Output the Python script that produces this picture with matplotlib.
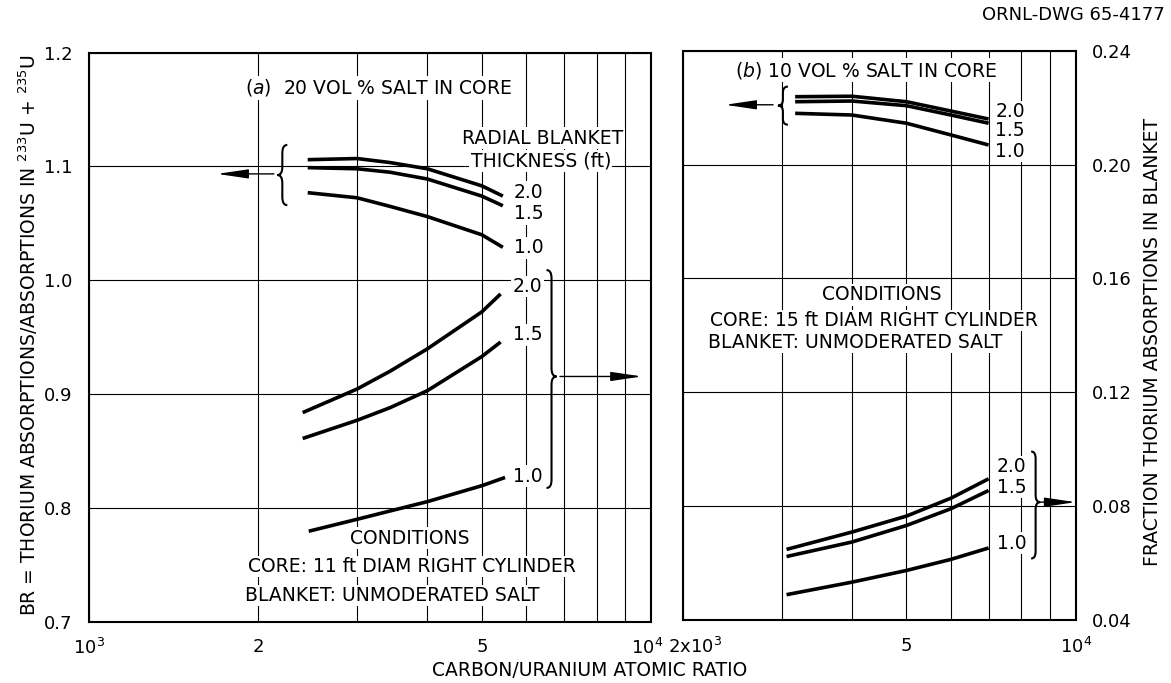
import matplotlib
matplotlib.use("Agg")
import matplotlib.pyplot as plt
from matplotlib.path import Path
from matplotlib.patches import PathPatch
from matplotlib.ticker import NullFormatter
from matplotlib.transforms import ScaledTranslation

plt.rcParams['font.family'] = ['DejaVu Sans']
plt.rcParams['mathtext.default'] = 'regular'

# ---- data -------------------------------------------------------------
# (a) 20 vol % salt in core, 11 ft core
a_br_x = [2450, 3000, 3430, 4000, 5000, 5450]
a_br_20 = [1.106, 1.107, 1.1035, 1.098, 1.083, 1.074]
a_br_15 = [1.099, 1.098, 1.095, 1.089, 1.074, 1.0655]
a_br_10 = [1.077, 1.0725, 1.065, 1.056, 1.040, 1.029]

a_frac_x = [2400, 3000, 3430, 4000, 5000, 5400]
a_frac_20 = [0.1135, 0.1218, 0.1280, 0.1359, 0.1489, 0.1552]
a_frac_15 = [0.1044, 0.1108, 0.1152, 0.1212, 0.1332, 0.1383]
a_frac_10_x = [2460, 3000, 3430, 4000, 5000, 5500]
a_frac_10 = [0.0718, 0.0760, 0.0789, 0.0822, 0.0878, 0.0907]

# (b) 10 vol % salt in core, 15 ft core
b_br_x = [3170, 4000, 5000, 6000, 7000]
b_br_20 = [1.1596, 1.1600, 1.1552, 1.1470, 1.1400]
b_br_15 = [1.1552, 1.1558, 1.1517, 1.1435, 1.1363]
b_br_10 = [1.1450, 1.1435, 1.1363, 1.1260, 1.1172]

b_frac_x = [3060, 4000, 5000, 6000, 7000]
b_frac_20 = [0.0648, 0.0709, 0.0765, 0.0828, 0.0896]
b_frac_15 = [0.0623, 0.0674, 0.0732, 0.0791, 0.0855]
b_frac_10 = [0.0489, 0.0533, 0.0574, 0.0613, 0.0653]

thickness_labels = ["2.0", "1.5", "1.0"]

a_xticks = [1000, 2000, 5000, 10000]
a_xticklabels = ["10$^3$", "2", "5", "10$^4$"]
a_xgrid = [2000, 3000, 4000, 5000, 6000, 7000, 8000, 9000]
b_xticks = [2000, 5000, 10000]
b_xticklabels = ["2x10$^3$", "5", "10$^4$"]
b_xgrid = [3000, 4000, 5000, 6000, 7000, 8000, 9000]

br_ticks = [0.7, 0.8, 0.9, 1.0, 1.1, 1.2]
br_ticklabels = ["0.7", "0.8", "0.9", "1.0", "1.1", "1.2"]
frac_ticks = [0.04, 0.08, 0.12, 0.16, 0.20, 0.24]
frac_ticklabels = ["0.04", "0.08", "0.12", "0.16", "0.20", "0.24"]

# ---- figure -----------------------------------------------------------
W, H = 1171, 683
fig = plt.figure(figsize=(W / 100, H / 100), dpi=100)
fig.patch.set_facecolor("white")

axL = fig.add_axes([89 / W, 1 - 621.7 / H, 562 / W, 569 / H])
axR = fig.add_axes([682.7 / W, 1 - 620 / H, 393 / W, 569.3 / H])

FS = 13.5
TICK_FS = 13
CURVE_LW = 2.6
GRID_KW = dict(color="black", linewidth=0.8)


def style_axes(ax, xlim, xticks, xlabels, xgrid):
    ax.set_xscale("log")
    ax.set_xlim(*xlim)
    ax.set_xticks(xticks, xlabels)
    ax.set_xticks(xgrid, minor=True)
    ax.xaxis.set_minor_formatter(NullFormatter())
    ax.tick_params(axis="both", which="both", length=0, labelsize=TICK_FS, pad=12)
    ax.grid(True, which="both", axis="x", **GRID_KW)
    ax.grid(True, which="major", axis="y", **GRID_KW)
    ax.set_axisbelow(True)
    for s in ax.spines.values():
        s.set_linewidth(1.5)


style_axes(axL, (1000, 10000), a_xticks, a_xticklabels, a_xgrid)
axL.set_ylim(0.7, 1.2)
axL.set_yticks(br_ticks, br_ticklabels)

style_axes(axR, (2000, 10000), b_xticks, b_xticklabels, b_xgrid)
axR.set_ylim(0.04, 0.24)
axR.set_yticks(frac_ticks, frac_ticklabels)

# shift the crowded decade labels apart
lblL = axL.get_xticklabels()[-1]
lblL.set_transform(lblL.get_transform() + ScaledTranslation(-3 / 72, 0, fig.dpi_scale_trans))
lblR = axR.get_xticklabels()[0]
lblR.set_transform(lblR.get_transform() + ScaledTranslation(9 / 72, 0, fig.dpi_scale_trans))

# twin axes carrying the other ordinate in each panel
axLf = axL.twinx()
axLf.set_ylim(0.04, 0.24)
axLf.set_yticks([])
axRb = axR.twinx()
axRb.set_ylim(0.7, 1.2)
axRb.set_yticks([])
for tw in (axLf, axRb):
    tw.tick_params(length=0)
    for s in tw.spines.values():
        s.set_visible(False)
# fraction scale of panel (b) reads on the right-hand side
axR.yaxis.tick_right()
axR.tick_params(axis="y", length=0, labelsize=TICK_FS, pad=12)

line_kw = dict(color="black", linewidth=CURVE_LW, solid_capstyle="butt")
for ys in (a_br_20, a_br_15, a_br_10):
    axL.plot(a_br_x, ys, zorder=4, **line_kw)
axLf.plot(a_frac_x, a_frac_20, **line_kw)
axLf.plot(a_frac_x, a_frac_15, **line_kw)
axLf.plot(a_frac_10_x, a_frac_10, **line_kw)
for ys in (b_br_20, b_br_15, b_br_10):
    axRb.plot(b_br_x, ys, **line_kw)
for ys in (b_frac_20, b_frac_15, b_frac_10):
    axR.plot(b_frac_x, ys, zorder=4, **line_kw)

# ---- annotations ------------------------------------------------------
box = dict(facecolor="white", edgecolor="none", pad=1.0)


def label(ax, x, y, s, ha="center", size=FS, **kw):
    ax.text(x, y, s, transform=ax.transAxes, ha=ha, va="center",
            fontsize=size, bbox=box, zorder=3, **kw)


def brace(ax, xc, y0, y1, w, d, ym=None):
    """Curly brace in axes fraction; ends at xc + w/2, tip at xc - w/2."""
    if ym is None:
        ym = 0.5 * (y0 + y1)
    e, t = xc + w / 2, xc - w / 2
    verts = [(e, y1), (xc, y1), (xc, y1 - d),
             (xc, ym + d), (xc, ym), (t, ym),
             (xc, ym), (xc, ym - d),
             (xc, y0 + d), (xc, y0), (e, y0)]
    codes = [Path.MOVETO, Path.CURVE3, Path.CURVE3,
             Path.LINETO, Path.CURVE3, Path.CURVE3,
             Path.CURVE3, Path.CURVE3,
             Path.LINETO, Path.CURVE3, Path.CURVE3]
    ax.add_patch(PathPatch(Path(verts, codes), transform=ax.transAxes,
                           facecolor="none", edgecolor="black",
                           linewidth=1.5, zorder=5, clip_on=False))


def arrow(ax, x0, x1, y):
    ax.annotate("", xy=(x1, y), xytext=(x0, y), xycoords="axes fraction",
                textcoords="axes fraction", zorder=5,
                arrowprops=dict(arrowstyle="-|>,head_length=1.9,head_width=0.28",
                                mutation_scale=10,
                                color="black", lw=1.0, shrinkA=0, shrinkB=0))


# panel (a)
label(axL, 0.516, 0.938, "($\\it{a}$)  20 VOL % SALT IN CORE")
label(axL, 0.808, 0.850, "RADIAL BLANKET")
label(axL, 0.804, 0.810, "THICKNESS (ft)")
for y, s in zip((0.755, 0.717, 0.657), thickness_labels):
    label(axL, 0.756, y, s, ha="left")
for y, s in zip((0.589, 0.504, 0.256), thickness_labels):
    label(axL, 0.754, y, s, ha="left")
brace(axL, 0.344, 0.732, 0.838, 10 / 562, 8 / 569)
arrow(axL, 0.329, 0.228, 0.787)
brace(axL, 0.823, 0.235, 0.618, -10 / 562, 8 / 569, ym=0.431)
arrow(axL, 0.838, 0.984, 0.431)
label(axL, 0.571, 0.147, "CONDITIONS")
label(axL, 0.574, 0.097, "CORE: 11 ft DIAM RIGHT CYLINDER")
label(axL, 0.278, 0.046, "BLANKET: UNMODERATED SALT", ha="left")

# panel (b)
label(axR, 0.466, 0.966, "($\\it{b}$) 10 VOL % SALT IN CORE")
brace(axR, 0.255, 0.870, 0.937, 10 / 393, 6 / 569)
arrow(axR, 0.230, 0.108, 0.905)
for y, s in zip((0.893, 0.859, 0.823), thickness_labels):
    label(axR, 0.795, y, s, ha="left")
label(axR, 0.506, 0.571, "CONDITIONS")
label(axR, 0.487, 0.526, "CORE: 15 ft DIAM RIGHT CYLINDER")
label(axR, 0.064, 0.488, "BLANKET: UNMODERATED SALT", ha="left")
for y, s in zip((0.269, 0.233, 0.135), thickness_labels):
    label(axR, 0.799, y, s, ha="left")
brace(axR, 0.898, 0.108, 0.296, -9 / 393, 7 / 569, ym=0.207)
arrow(axR, 0.909, 1.0, 0.207)

# ---- axis titles ------------------------------------------------------
fig.text(28 / W, 1 - 335 / H,
         "BR = THORIUM ABSORPTIONS/ABSORPTIONS IN $^{233}$U + $^{235}$U",
         rotation=90, ha="center", va="center", fontsize=FS)
fig.text(1152 / W, 1 - 342 / H, "FRACTION THORIUM ABSORPTIONS IN BLANKET",
         rotation=90, ha="center", va="center", fontsize=FS)
fig.text(590 / W, 1 - 670 / H, "CARBON/URANIUM ATOMIC RATIO",
         ha="center", va="center", fontsize=FS)
fig.text(1165 / W, 1 - 15 / H, "ORNL-DWG 65-4177",
         ha="right", va="center", fontsize=13)

fig.savefig("out.png", dpi=100, facecolor="white")
